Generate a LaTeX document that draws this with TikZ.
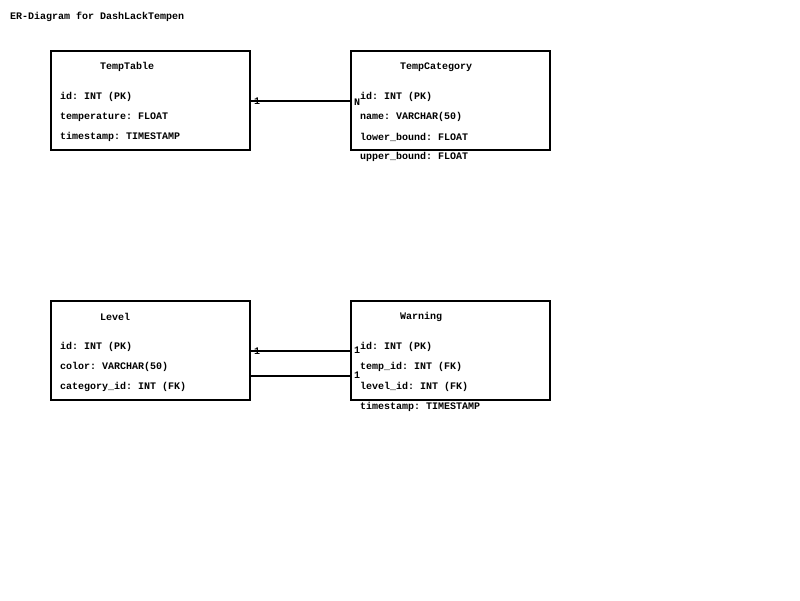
\documentclass[tikz,border=0pt]{standalone}
\usepackage{fontspec}
\setmonofont{Liberation Mono}
\usepackage{tikz}
\usetikzlibrary{positioning}

\tikzset{
    entity/.style={draw, line width=2pt, minimum width=199pt, minimum height=99pt, inner sep=0pt},
    attr/.style={anchor=west, inner sep=0pt, font=\ttfamily\bfseries\fontsize{10}{12}\selectfont},
    card/.style={inner sep=0pt, font=\ttfamily\bfseries\fontsize{10}{12}\selectfont},
}

\begin{document}
\begin{tikzpicture}[x=1pt, y=-1pt]

    % Page frame
    \useasboundingbox[fill=white] (0,0) rectangle (800,600);
    \node[attr] (title) at (10,17) {ER-Diagram for DashLackTempen};

    % Upper row
    \node[entity] (temptable) at (150.5,100.5) {};
    \node[attr] (temptablename) at (100,67) {TempTable};
    \foreach \f [count=\i] in {id: INT (PK), temperature: FLOAT, timestamp: TIMESTAMP}
        \node[attr] at (60,77+20*\i) {\f};

    \node[entity] (tempcategory) at (450.5,100.5) {};
    \node[attr] (tempcategoryname) at (400,67) {TempCategory};
    \foreach \f [count=\i] in {id: INT (PK), name: VARCHAR(50), lower\_bound: FLOAT, upper\_bound: FLOAT}
        \node[attr] at (360,77+20*\i) {\f};

    % Lower row
    \node[entity] (level) at (150.5,350.5) {};
    \node[attr] (levelname) at (100,317) {Level};
    \foreach \f [count=\i] in {id: INT (PK), color: VARCHAR(50), category\_id: INT (FK)}
        \node[attr] at (60,327+20*\i) {\f};

    \node[entity] (warning) at (450.5,350.5) {};
    \node[attr] (warningname) at (400,317) {Warning};
    \foreach \f [count=\i] in {id: INT (PK), temp\_id: INT (FK), level\_id: INT (FK), timestamp: TIMESTAMP}
        \node[attr] at (360,327+20*\i) {\f};

    % Relations
    \draw[line width=2pt] (temptable.east) -- (tempcategory.west);
    \node[card] at (257,101) {1};
    \node[card] at (357,102) {N};

    \draw[line width=2pt] (level.east) -- (warning.west);
    \node[card] at (257,351) {1};
    \node[card] at (357,350) {1};

    \draw[line width=2pt] ([yshift=-25pt]level.east) -- ([yshift=-25pt]warning.west);
    \node[card] at (357,375) {1};

\end{tikzpicture}
\end{document}
